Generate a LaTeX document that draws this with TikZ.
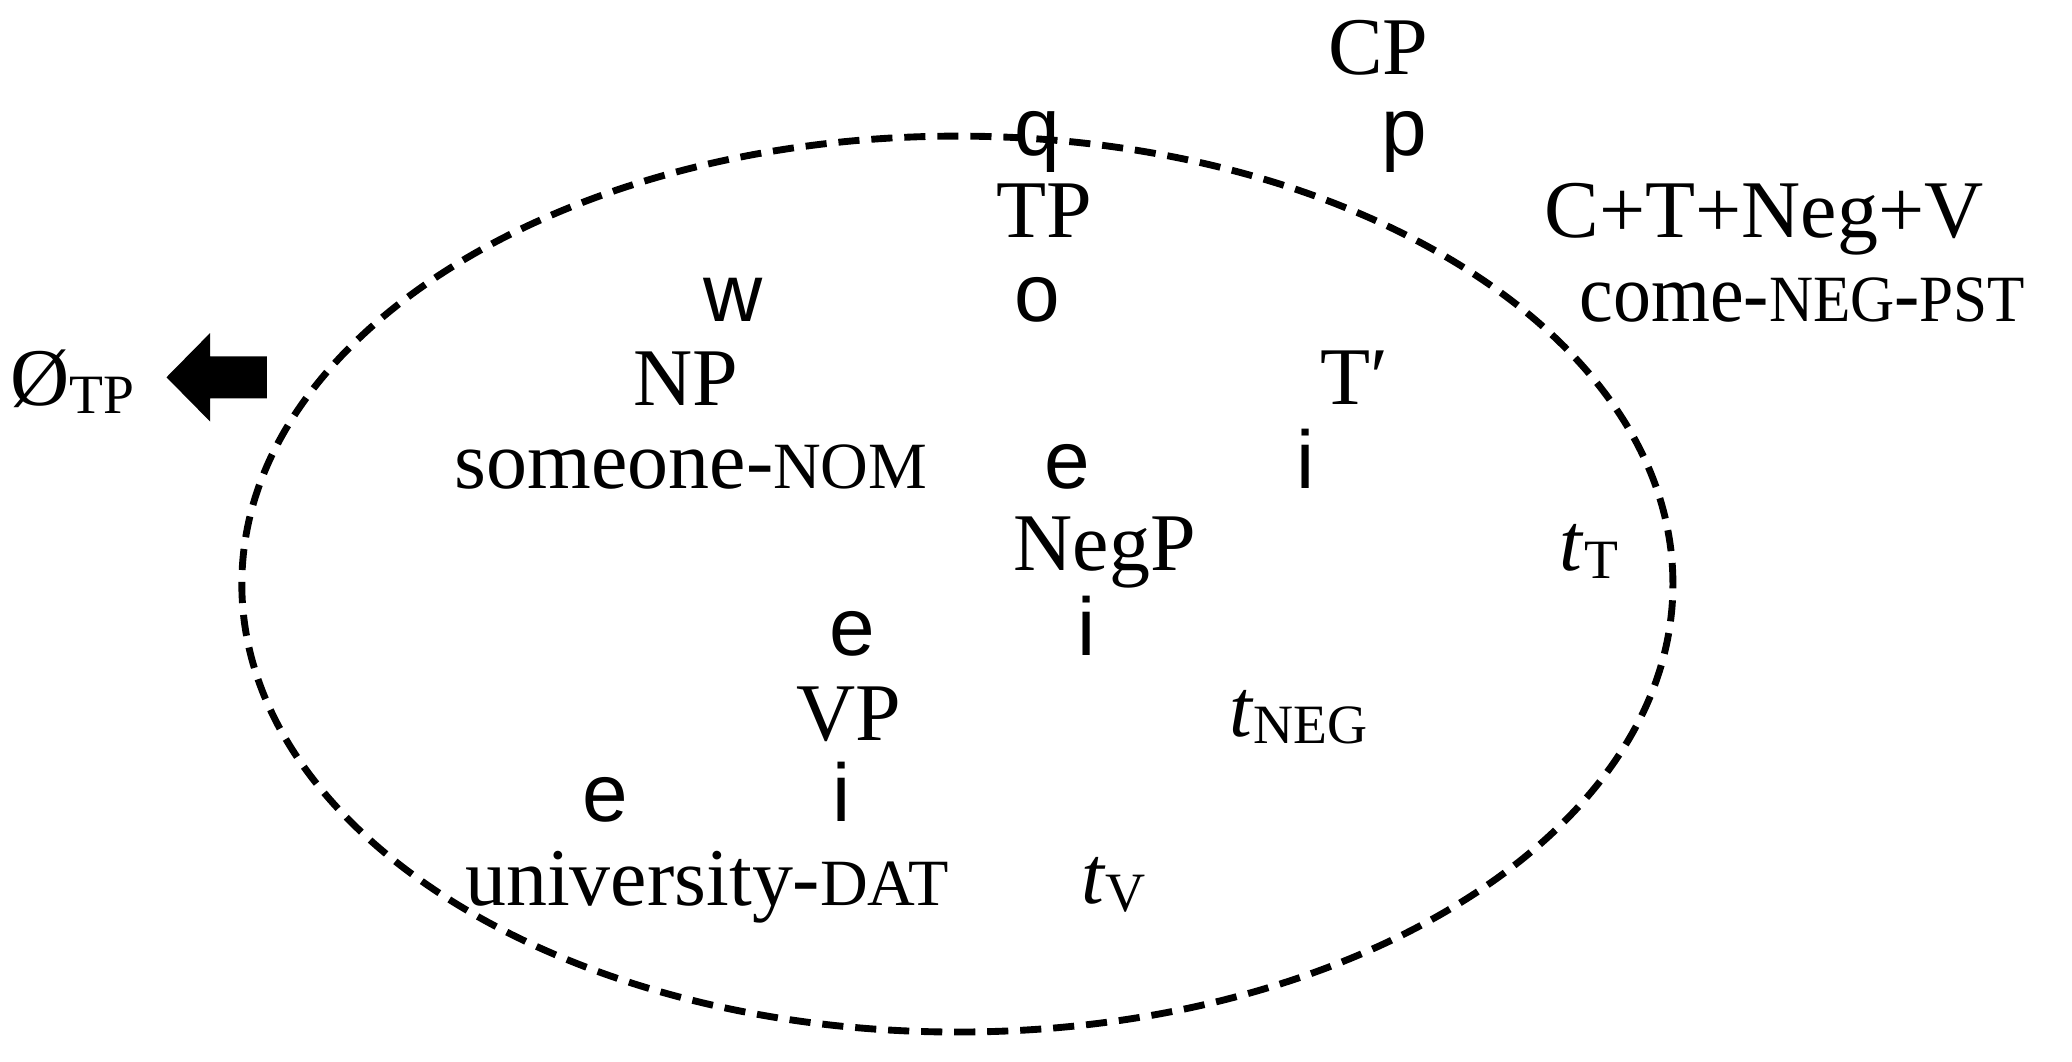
\documentclass[tikz,border=0pt]{standalone}
\usepackage{fontspec}
\setmainfont{Liberation Serif}
\newfontfamily\branchfont{Liberation Sans}
\usepackage{tikz}
\newcommand{\glosscap}[1]{{\fontsize{25}{30}\selectfont #1}}
\newcommand{\lowsub}[1]{\raisebox{-2.8pt}{\fontsize{21}{25}\selectfont #1}}

\begin{document}
\begin{tikzpicture}[x=0.5pt,y=-0.5pt]
		\tikzstyle{word}=[anchor=base,inner sep=0pt,font=\fontsize{31}{37}\selectfont]
		\tikzstyle{branch}=[word,font=\branchfont\fontsize{31}{37}\selectfont]
		\tikzstyle{trace}=[word,anchor=base west]
		\tikzstyle{ellipsis region}=[draw=black,line width=2.6pt,dash pattern=on 8pt off 4.5pt]
		
		\useasboundingbox (0,0) rectangle (1568,803);
		
		% The branching glyphs
		\foreach \name / \g / \x / \y in {q/q/785/118, p/p/1063/118, w/w/555/243, o/o/785/243,
			e1/e/808/370, i1/i/988/370, e2/e/645/496, i2/i/822/496, e3/e/458/622, i3/i/637/622}
		\node[branch] (br-\name) at (\x,\y) {\g};
		
		% The category labels
		\node[word] (CP) at (1043,56) {CP};
		\node[word] (TP) at (790,180) {TP};
		\node[word] (NP) at (519,307) {NP};
		\node[word] (Tbar) at (1025,306) {T′};
		\node[word] (NegP) at (836,432) {NegP};
		\node[word] (VP) at (642,560) {VP};
		
		% Words and traces
		\node[word] (subj) at (523,370) {someone-\glosscap{NOM}};
		\node[word] (goal) at (535,685) {university-\glosscap{DAT}};
		\node[word] (head) at (1335,180) {C+T+Neg+V};
		\node[word] (verb) at (1364,243) {\scalebox{0.925}[1]{come-\glosscap{NEG}-\glosscap{PST}}};
		\node[trace] (tT) at (1180,432) {\textit{t}\lowsub{T}};
		\node[trace] (tNeg) at (930,557) {\textit{t}\lowsub{NEG}};
		\node[trace] (tV) at (818,684) {\textit{t}\lowsub{V}};
		
		% Deleted TP
		\node[word] (null) at (55,307) {Ø\lowsub{TP}};
		\fill (202,269.6) -- (159,269.6) -- (159,252) -- (126,285.5)
		-- (159,319) -- (159,301.4) -- (202,301.4) -- cycle;
		
		\draw[ellipsis region] (724.5,442) ellipse [x radius=270.75pt, y radius=169.5pt];
	
	\end{tikzpicture}
\end{document}
